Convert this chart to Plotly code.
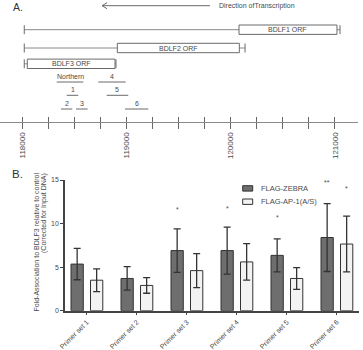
import plotly.graph_objects as go

# ---------------- Panel A data (genome coordinates) ----------------
orf_names = ["BDLF1 ORF", "BDLF2 ORF", "BDLF3 ORF"]
orf_start = [120078, 118909, 118044]
orf_end = [121019, 120081, 118887]
locus_start = [118015, 118015, 118015]
locus_end = [121048, 120136, 118896]

probe_names = ["Northern", "4", "1", "5", "2", "3", "6"]
probe_start = [118327, 118726, 118423, 118807, 118368, 118512, 118983]
probe_end = [118582, 118989, 118534, 119014, 118476, 118624, 119207]
probe_row = [0, 0, 1, 1, 2, 2, 2]

arrow_tail = 119800
arrow_tip = 118762
arrow_label = "Direction ofTranscription"

genome_min, genome_max = 117782, 121221
genome_major = 1000
genome_minor = 250

# ---------------- Panel B data ----------------
primer_sets = ["Primer set 1", "Primer set 2", "Primer set 3",
               "Primer set 4", "Primer set 5", "Primer set 6"]
series_names = ["FLAG-ZEBRA", "FLAG-AP-1(A/S)"]
zebra_mean = [5.35, 3.7, 6.9, 6.9, 6.35, 8.4]
zebra_err = [1.8, 1.35, 2.5, 2.7, 1.9, 3.9]
ap1_mean = [3.5, 2.9, 4.6, 5.6, 3.7, 7.65]
ap1_err = [1.3, 0.9, 1.95, 2.1, 1.25, 3.2]
zebra_sig = ["", "", "*", "*", "*", "**"]
zebra_sig_y = [None, None, 11.8, 11.9, 10.9, 14.9]
ap1_sig = ["", "", "", "", "", "*"]
ap1_sig_y = [None, None, None, None, None, 14.2]

# ---------------- layout constants ----------------
W, H = 363, 350
FONT = "Liberation Sans, Arial, sans-serif"
TXT = "#4a4a4a"
LINE = "#8a8a8a"
BOX = "#6a6a6a"
A_AXIS_PX = 122
A_XDOM = [0, 358 / W]
u_per_px = (genome_max - genome_min) / (358)

ORF_ROW_Y = [29.7, 48.0, 63.8]
BOX_HALF = 4.7
BAR_HALF = 4.5
PROBE_ROW_Y = [82.0, 95.3, 109.0]
ARROW_Y = 5.7

B_X0, B_X1 = 65, 359
B_Y0, B_Y1 = 310.7, 180


def px(x):
    return x / W


def py(y):
    return 1 - y / H


fig = go.Figure()
shapes = []
annotations = []

# ORF tracks
for i, name in enumerate(orf_names):
    yc = ORF_ROW_Y[i]
    shapes.append(dict(type="line", xref="x", yref="y", x0=locus_start[i], x1=locus_end[i],
                       y0=yc, y1=yc, line=dict(color=LINE, width=1)))
    for xe in (locus_start[i], locus_end[i]):
        shapes.append(dict(type="line", xref="x", yref="y", x0=xe, x1=xe,
                           y0=yc - BAR_HALF, y1=yc + BAR_HALF, line=dict(color=BOX, width=1)))
    shapes.append(dict(type="rect", xref="x", yref="y", x0=orf_start[i], x1=orf_end[i],
                       y0=yc - BOX_HALF, y1=yc + BOX_HALF, fillcolor="white",
                       line=dict(color=BOX, width=1)))
    annotations.append(dict(xref="x", yref="y", x=(orf_start[i] + orf_end[i]) / 2, y=yc,
                            text=name, showarrow=False, font=dict(size=7, color=TXT, family=FONT)))

# probes / primer sets
for i, name in enumerate(probe_names):
    yl = PROBE_ROW_Y[probe_row[i]]
    shapes.append(dict(type="line", xref="x", yref="y", x0=probe_start[i], x1=probe_end[i],
                       y0=yl, y1=yl, line=dict(color=BOX, width=1)))
    annotations.append(dict(xref="x", yref="y", x=(probe_start[i] + probe_end[i]) / 2, y=yl,
                            yanchor="bottom", yshift=0, text=name, showarrow=False,
                            font=dict(size=7, color=TXT, family=FONT)))

# direction arrow
shapes.append(dict(type="line", xref="x", yref="y", x0=arrow_tail, x1=arrow_tip,
                   y0=ARROW_Y, y1=ARROW_Y, line=dict(color=BOX, width=1)))
hx = arrow_tip + 5 * u_per_px
shapes.append(dict(type="path", xref="x", yref="y",
                   path=f"M{hx},{ARROW_Y - 3} L{arrow_tip},{ARROW_Y} L{hx},{ARROW_Y + 3}",
                   line=dict(color=BOX, width=1)))
annotations.append(dict(xref="x", yref="y", x=arrow_tail + 7 * u_per_px, y=ARROW_Y,
                        xanchor="left", text=arrow_label, showarrow=False,
                        font=dict(size=7, color=TXT, family=FONT)))

# panel letters
annotations.append(dict(xref="paper", yref="paper", x=px(11), y=py(6.7), xanchor="left",
                        yanchor="middle", text="A.", showarrow=False,
                        font=dict(size=10.5, color="#333", family=FONT)))
annotations.append(dict(xref="paper", yref="paper", x=px(9.5), y=py(174), xanchor="left",
                        yanchor="middle", text="B.", showarrow=False,
                        font=dict(size=11.5, color="#333", family=FONT)))

# invisible traces to anchor the genome axes
fig.add_trace(go.Scatter(x=[genome_min], y=[-50], xaxis="x", yaxis="y", mode="markers",
                         marker=dict(opacity=0), hoverinfo="skip", showlegend=False))
fig.add_trace(go.Scatter(x=[genome_min], y=[-50], xaxis="x3", yaxis="y", mode="markers",
                         marker=dict(opacity=0), hoverinfo="skip", showlegend=False))

# ---------------- Panel B bars ----------------
colors = ["#6e6e6e", "#f3f3f3"]
means = [zebra_mean, ap1_mean]
errs = [zebra_err, ap1_err]
for k in range(2):
    fig.add_trace(go.Bar(
        x=primer_sets, y=means[k], name=series_names[k], xaxis="x2", yaxis="y2",
        marker=dict(color=colors[k], line=dict(color="#333", width=1)),
        error_y=dict(type="data", array=errs[k], visible=True, color="#333",
                     thickness=1.3, width=3.5),
        showlegend=False))

slot_px = 19.5
for sig, sy, sh in ((zebra_sig, zebra_sig_y, -slot_px / 2), (ap1_sig, ap1_sig_y, slot_px / 2)):
    for i, s in enumerate(sig):
        if s:
            annotations.append(dict(xref="x2", yref="y2", x=primer_sets[i], y=sy[i],
                                    xshift=sh, yshift=-1.5, text=s, showarrow=False,
                                    font=dict(size=7, color=TXT, family=FONT)))

# manual legend
leg_rows = [188.4, 201.7]
for k in range(2):
    yc = leg_rows[k]
    shapes.append(dict(type="rect", xref="paper", yref="paper", x0=px(242.7), x1=px(252.7),
                       y0=py(yc - 2.7), y1=py(yc + 2.7), fillcolor=colors[k],
                       line=dict(color="#333", width=1)))
    annotations.append(dict(xref="paper", yref="paper", x=px(258.5), y=py(yc),
                            xanchor="left", yanchor="middle", text=series_names[k],
                            showarrow=False, font=dict(size=7.5, color=TXT, family=FONT)))

# y-axis title (two lines, top aligned)
annotations.append(dict(xref="paper", yref="paper", x=px(36), y=py(171), xanchor="center",
                        yanchor="top", textangle=-90, showarrow=False,
                        text="Fold-Association to BDLF3 relative to control",
                        font=dict(size=7, color=TXT, family=FONT)))
annotations.append(dict(xref="paper", yref="paper", x=px(44), y=py(171), xanchor="center",
                        yanchor="top", textangle=-90, showarrow=False,
                        text="(Corrected for Input DNA)",
                        font=dict(size=7, color=TXT, family=FONT)))

fig.update_layout(
    width=W, height=H, margin=dict(l=0, r=0, t=0, b=0),
    template="none", paper_bgcolor="white", plot_bgcolor="rgba(0,0,0,0)",
    font=dict(family=FONT, color=TXT),
    showlegend=False, barmode="group", bargap=0.22, bargroupgap=0.37,
    xaxis=dict(domain=A_XDOM, anchor="y", range=[genome_min, genome_max],
               showline=True, linecolor=LINE, linewidth=1.3, showgrid=False, zeroline=False,
               ticks="outside", ticklen=6, tickwidth=1, tickcolor="#666",
               tickmode="linear", tick0=118000, dtick=genome_major, tickformat="d",
               tickangle=-90, tickfont=dict(size=8, color=TXT, family=FONT),
               minor=dict(ticks="outside", ticklen=6, tickwidth=1, tickcolor="#666",
                          dtick=genome_minor, tick0=118000, showgrid=False),
               automargin=False, fixedrange=True),
    xaxis3=dict(overlaying="x", anchor="y", range=[genome_min, genome_max],
                showline=False, showgrid=False, zeroline=False, showticklabels=False,
                ticks="inside", ticklen=5, tickwidth=1, tickcolor="#666",
                tickmode="linear", tick0=118000, dtick=genome_major,
                minor=dict(ticks="inside", ticklen=5, tickwidth=1, tickcolor="#666",
                           dtick=genome_minor, tick0=118000, showgrid=False),
                automargin=False, fixedrange=True),
    yaxis=dict(domain=[py(A_AXIS_PX), 1], anchor="x", range=[A_AXIS_PX, 0],
               visible=False, fixedrange=True),
    xaxis2=dict(domain=[px(B_X0), px(B_X1)], anchor="y2", type="category",
                range=[-0.438, 5.442], showline=True, linecolor="#444", linewidth=1.5,
                showgrid=False, zeroline=False, ticks="outside", ticklen=3, tickcolor="#444",
                tickangle=-45, tickfont=dict(size=7, color=TXT, family=FONT),
                automargin=False),
    yaxis2=dict(domain=[py(B_Y0), py(B_Y1)], anchor="x2", range=[0, 15],
                tickvals=[0, 5, 10, 15], showline=True, linecolor="#444", linewidth=1.5,
                showgrid=False, zeroline=False, ticks="outside", ticklen=3, tickcolor="#444",
                tickfont=dict(size=7, color=TXT, family=FONT), automargin=False),
    shapes=shapes, annotations=annotations,
)

fig.write_html("out.html")
